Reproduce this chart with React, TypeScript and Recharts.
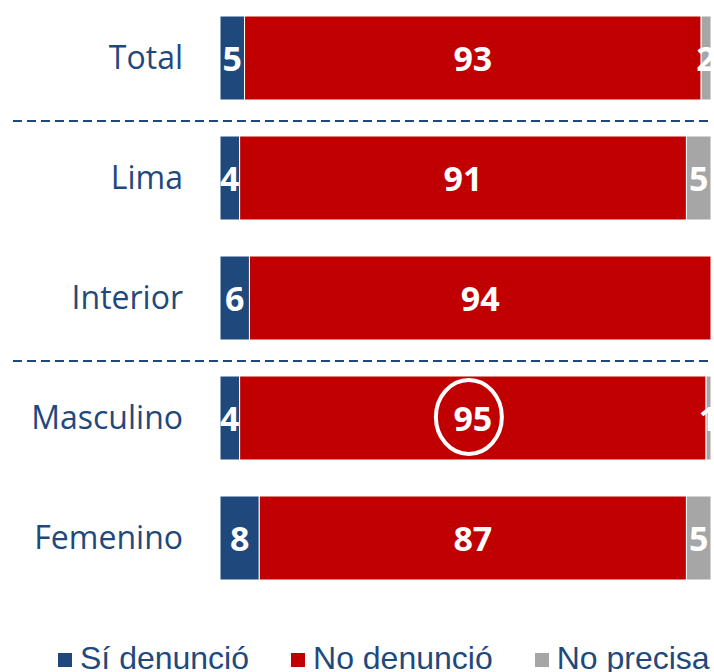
import React from "react";
import { BarChart, Bar, XAxis, YAxis, LabelList } from "recharts";

const categories = ["Total", "Lima", "Interior", "Masculino", "Femenino"];
const siDenuncio = [5, 4, 6, 4, 8];
const noDenuncio = [93, 91, 94, 95, 87];
const noPrecisa = [2, 5, null, 1, 5];
const seriesNames = ["Sí denunció", "No denunció", "No precisa"];
const breaksAfter = [0, 2]; // dashed separator after these rows
const highlighted = "Masculino";

const BLUE = "#1F497D";
const RED = "#C00000";
const GRAY = "#A6A6A6";
const colors = [BLUE, RED, GRAY];

const W = 714;
const H = 674;
const LEFT = 220;
const RIGHT = 3;
const PLOT_H = 600;

const data = categories.map((name, i) => ({
  name,
  si: siDenuncio[i],
  no: noDenuncio[i],
  np: noPrecisa[i],
}));

const renderLabel = (props: any) => {
  const { x, y, width, height, value, index } = props;
  if (!value) return null;
  const cx = x + width / 2;
  const cy = y + height / 2;
  return (
    <g>
      <text
        x={cx}
        y={cy + 13}
        textAnchor="middle"
        fill="#fff"
        fontFamily="'Open Sans', sans-serif"
        fontWeight={700}
        fontSize={34}
      >
        {value}
      </text>
      {categories[index] === highlighted && props.ring ? (
        <ellipse cx={cx - 4} cy={cy - 1} rx={33} ry={37} fill="none" stroke="#fff" strokeWidth={4} />
      ) : null}
    </g>
  );
};

const Legend = () => (
  <div
    style={{
      position: "absolute",
      top: 640,
      left: 58,
      display: "flex",
      alignItems: "center",
      fontFamily: "'Liberation Sans', Arial, sans-serif",
      fontSize: 32,
      color: BLUE,
      whiteSpace: "nowrap",
      lineHeight: "36px",
    }}
  >
    {seriesNames.map((s, i) => (
      <div key={s} style={{ display: "flex", alignItems: "center", marginRight: 42 }}>
        <span style={{ width: 14, height: 14, background: colors[i], marginRight: 8, marginTop: 4 }} />
        <span>{s}</span>
      </div>
    ))}
  </div>
);

export default function App() {
  const band = PLOT_H / categories.length;
  return (
    <div style={{ position: "absolute", left: 0, top: 0, width: 711, height: 672, overflow: "hidden", background: "#fff" }}>
      <div style={{ position: "absolute", left: 0, top: -2, width: W, height: H }}>
        <BarChart
          width={W}
          height={H}
          data={data}
          layout="vertical"
          margin={{ top: 0, right: RIGHT, bottom: H - PLOT_H, left: 0 }}
        >
          <XAxis type="number" domain={[0, 100]} hide />
          <YAxis
            type="category"
            dataKey="name"
            width={LEFT}
            axisLine={false}
            tickLine={false}
            tickSize={0}
            tickMargin={37}
            tick={{ fill: BLUE, fontSize: 32, fontFamily: "'Open Sans', sans-serif" }}
          />
          <Bar dataKey="si" stackId="a" fill={BLUE} stroke="#fff" strokeWidth={1} barSize={84} isAnimationActive={false}>
            <LabelList dataKey="si" content={renderLabel} />
          </Bar>
          <Bar dataKey="no" stackId="a" fill={RED} stroke="#fff" strokeWidth={1} barSize={84} isAnimationActive={false}>
            <LabelList dataKey="no" content={(p: any) => renderLabel({ ...p, ring: true })} />
          </Bar>
          <Bar dataKey="np" stackId="a" fill={GRAY} stroke="#fff" strokeWidth={1} barSize={84} isAnimationActive={false}>
            <LabelList dataKey="np" content={renderLabel} />
          </Bar>
        </BarChart>
        <svg width={W} height={H} style={{ position: "absolute", left: 0, top: 0, pointerEvents: "none" }}>
          {breaksAfter.map((i) => (
            <line
              key={i}
              x1={13}
              x2={W - RIGHT}
              y1={band * (i + 1) + 3}
              y2={band * (i + 1) + 3}
              stroke={BLUE}
              strokeWidth={2}
              strokeDasharray="9 5"
            />
          ))}
        </svg>
      </div>
      <Legend />
    </div>
  );
}
